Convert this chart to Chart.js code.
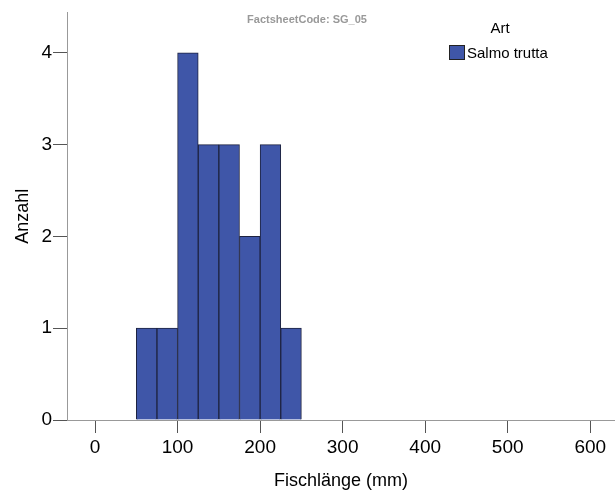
<!DOCTYPE html>
<html>
<head>
<meta charset="utf-8">
<script src="https://cdn.jsdelivr.net/npm/chart.js@4.4.0/dist/chart.umd.min.js"></script>
<style>
  html, body { margin: 0; padding: 0; background: #fff; }
  #wrap { width: 615px; height: 492px; }
</style>
</head>
<body>
<div id="wrap"><canvas id="histChart" width="615" height="492"></canvas></div>
<script>
// bin edges (mm) and counts
const binStarts = [50, 75, 100, 125, 150, 175, 200, 225];
const binWidth = 25;
const counts = [1, 1, 4, 3, 3, 2, 3, 1];
const xTicks = [0, 100, 200, 300, 400, 500, 600];
const yTicks = [0, 1, 2, 3, 4];
const seriesName = 'Salmo trutta';
const legendTitle = 'Art';
const note = 'FactsheetCode: SG_05';

const FONT = "'Liberation Sans', Arial, sans-serif";
const barColor = '#3f56a8';

const overlay = {
  id: 'overlay',
  afterDraw(chart) {
    const c = chart.ctx;
    c.save();
    c.fillStyle = '#999';
    c.font = `bold 11px ${FONT}`;
    c.textAlign = 'center';
    c.textBaseline = 'middle';
    c.fillText(note, 307, 20);

    c.fillStyle = '#000';
    c.font = `15px ${FONT}`;
    c.fillText(legendTitle, 500, 29);

    c.fillStyle = barColor;
    c.fillRect(449, 45, 16, 15);
    c.strokeStyle = '#222';
    c.lineWidth = 1;
    c.strokeRect(449.5, 45.5, 15, 14);
    c.fillStyle = '#000';
    c.textAlign = 'left';
    c.fillText(seriesName, 467, 54);
    c.restore();
  }
};

new Chart(document.getElementById('histChart'), {
  type: 'bar',
  data: {
    datasets: [{
      label: seriesName,
      data: binStarts.map((s, i) => ({ x: s + binWidth / 2, y: counts[i] })),
      backgroundColor: barColor,
      borderColor: '#1e2340',
      borderWidth: 1,
      barPercentage: 1,
      categoryPercentage: 1
    }]
  },
  options: {
    responsive: false,
    animation: false,
    layout: { padding: { top: 9, right: 0, left: 0, bottom: 0 } },
    plugins: { legend: { display: false }, tooltip: { enabled: false } },
    scales: {
      x: {
        type: 'linear',
        offset: false,
        min: -34,
        max: 630,
        afterBuildTicks: s => { s.ticks = xTicks.map(v => ({ value: v })); },
        afterFit: s => { s.height = 72; },
        border: { display: true, color: '#999', width: 1 },
        grid: { offset: false, drawOnChartArea: false, drawTicks: true, tickLength: 13, color: '#555' },
        ticks: { color: '#000', font: { family: FONT, size: 19 }, padding: 3, maxRotation: 0 },
        title: { display: true, text: 'Fischlänge (mm)', color: '#000', font: { family: FONT, size: 18 }, padding: { top: 4, bottom: 0 } }
      },
      y: {
        min: 0,
        max: 4.44,
        afterBuildTicks: s => { s.ticks = yTicks.map(v => ({ value: v })); },
        afterFit: s => { s.width = 67; },
        border: { display: true, color: '#999', width: 1 },
        grid: { offset: false, drawOnChartArea: false, drawTicks: true, tickLength: 14, color: '#555' },
        ticks: { color: '#000', font: { family: FONT, size: 19 }, padding: 1 },
        title: { display: true, text: 'Anzahl', color: '#000', font: { family: FONT, size: 18 }, padding: { top: 12, bottom: 6 } }
      }
    }
  },
  plugins: [overlay]
});
</script>
</body>
</html>
